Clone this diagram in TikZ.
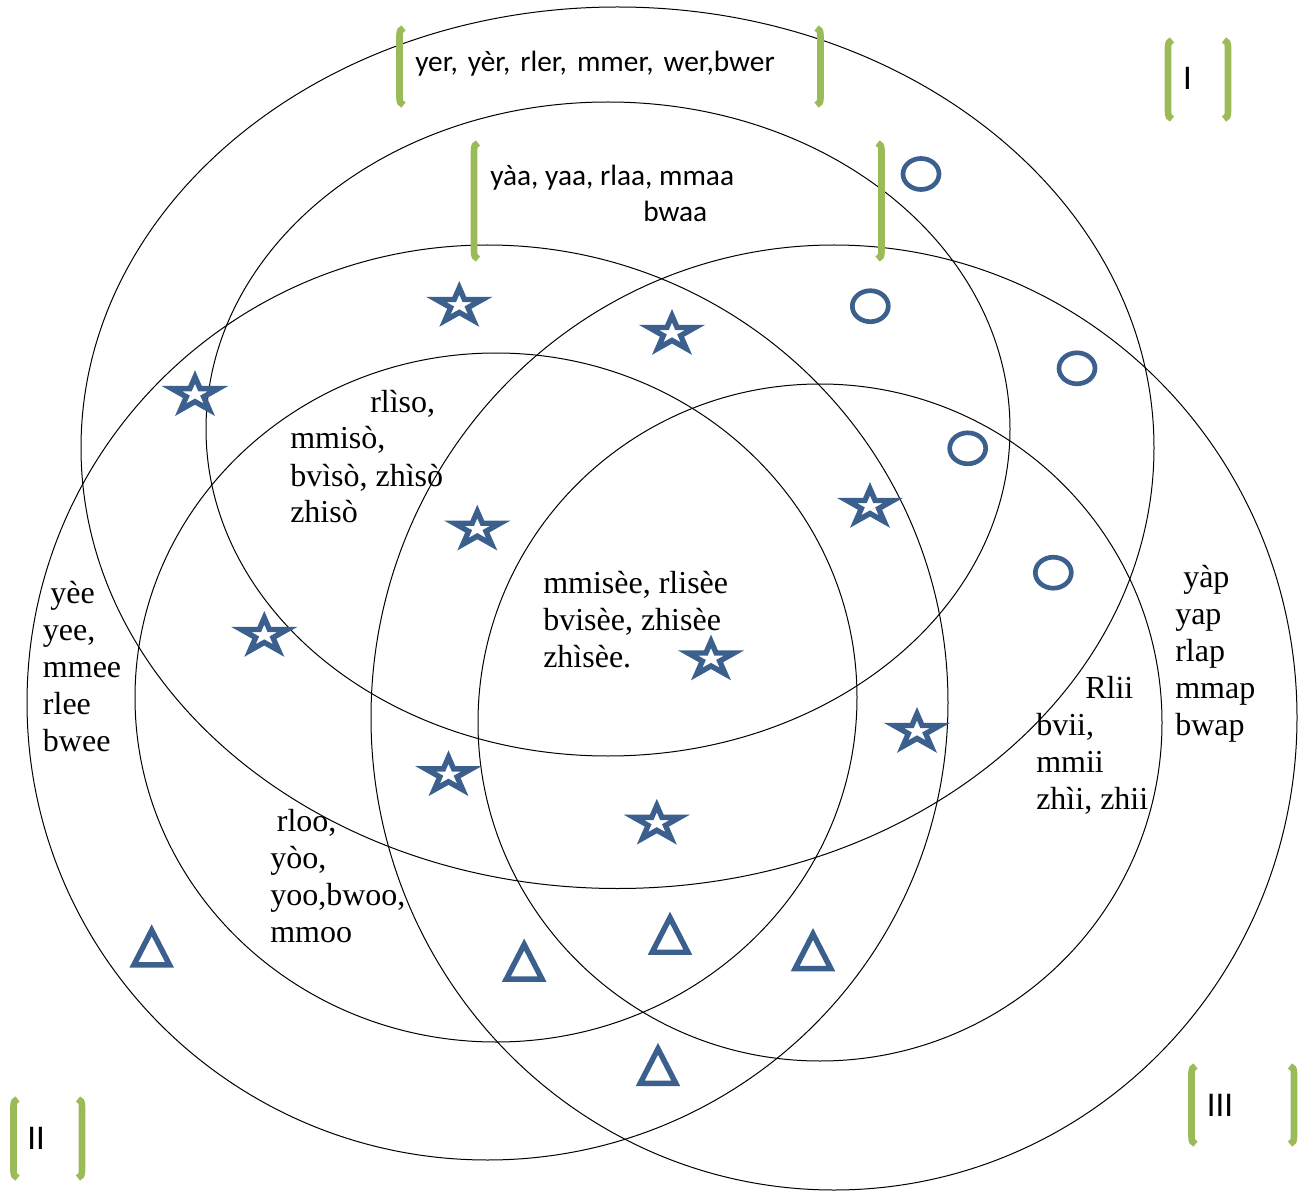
\documentclass[tikz,border=0pt]{standalone}
\usepackage{fontspec}
\usepackage{tikz}
\newfontfamily\timesfont{Liberation Serif}
\newfontfamily\calibrifont{Carlito}
\definecolor{markblue}{RGB}{60,96,142}
\definecolor{brackgreen}{RGB}{155,187,89}
\newcommand{\stacklines}[1]{\begin{tabular}[t]{@{}l@{}}#1\end{tabular}}
\tikzset{
  setline/.style={line width=0.75pt},
  starline/.style={draw=markblue, line width=4.05pt, line join=miter},
  triline/.style={draw=markblue, line width=4.1pt, line join=miter},
  ringline/.style={draw=markblue, line width=3.5pt},
  brackline/.style={draw=brackgreen, line width=5pt},
  wordtext/.style={anchor=base west, inner sep=0pt, font=\timesfont\fontsize{24}{27.75}\selectfont},
  boxtext/.style={anchor=base west, inner sep=0pt, font=\calibrifont\fontsize{22}{27}\selectfont},
  numtext/.style={inner sep=0pt, font=\calibrifont\fontsize{26}{30}\selectfont},
}

\begin{document}
\begin{tikzpicture}[x=0.75pt,y=0.75pt,yscale=-1,xscale=1]
\useasboundingbox (0,0) rectangle (1304,1191);

%Shape: Ellipse [set I, outer]
\draw [setline] (617.5,447.75) ellipse (536.5 and 440.75);
%Shape: Ellipse [set I, inner]
\draw [setline] (608,429) ellipse (402 and 327);
%Shape: Ellipse [set II, outer]
\draw [setline] (487.5,702.5) ellipse (460.5 and 457.5);
%Shape: Ellipse [set II, inner]
\draw [setline] (496,697.5) ellipse (361 and 344.5);
%Shape: Ellipse [set III, outer]
\draw [setline] (834,717.5) ellipse (463 and 472.5);
%Shape: Ellipse [set III, inner]
\draw [setline] (820,722.5) ellipse (342 and 338.5);

%Shape: Star
\foreach \sx/\sy in {459.3/304, 672/332, 195/393.2, 477.3/527.7, 870/505, 264.3/634, 711/657.5, 917/730, 448.5/773.3, 656.8/821.8}
  \draw [starline, shift={(\sx,\sy)}] (0,-16.2) -- (5.1,-4.5) -- (23,-4.5) -- (8.65,3.6) -- (14.3,16.5) -- (0,8.45) -- (-14.3,16.5) -- (-8.65,3.6) -- (-23,-4.5) -- (-5.1,-4.5) -- cycle ;

%Shape: Triangle
\foreach \tx/\ty in {151.7/946, 524.2/960.2, 670/933.3, 813/949.7, 658/1064.5}
  \draw [triline, shift={(\tx,\ty)}] (-17.85,18.95) -- (0,-15.7) -- (17.85,18.95) -- cycle ;

%Shape: Circle
\foreach \cx/\cy in {921/174, 870.3/306.2, 1077/368.3, 967.7/448.3, 1053.3/572.7}
  \draw [ringline] (\cx,\cy) ellipse (18 and 15.5);

%Shape: Bracket Pair
\foreach \xl/\xr/\yt/\yb in {399.5/820.5/28/105, 474/881.5/143/259, 1168/1228/40/119, 13.5/82/1099/1178, 1191.5/1294/1066/1144}{
  \draw [brackline] (\xl+4,\yt) .. controls (\xl+1,\yt+1) and (\xl,\yt+3) .. (\xl,\yt+8) -- (\xl,\yb-8) .. controls (\xl,\yb-3) and (\xl+1,\yb-1) .. (\xl+4,\yb) ;
  \draw [brackline] (\xr-4,\yt) .. controls (\xr-1,\yt+1) and (\xr,\yt+3) .. (\xr,\yt+8) -- (\xr,\yb-8) .. controls (\xr,\yb-3) and (\xr-1,\yb-1) .. (\xr-4,\yb) ;
}

% Text Node
\draw (415,72) node (yer) [boxtext] {\spaceskip=7.5pt yer, yèr, rler, mmer, wer,bwer};
% Text Node
\draw (490,186) node (yaa) [boxtext] {\stacklines{yàa, yaa, rlaa, mmaa\\\hspace*{114.75pt}bwaa}};
% Text Node
\draw (290,412) node (rliso) [wordtext] {\stacklines{\hspace*{60pt}rlìso,\\mmisò,\\bvìsò, zhìsò\\zhisò}};
% Text Node
\draw (543,593) node (misee) [wordtext] {\stacklines{mmisèe, rlisèe\\bvisèe, zhisèe\\zhìsèe.}};
% Text Node
\draw (42.7,603) node (yee) [wordtext] {\stacklines{\hspace*{5.5pt}yèe\\yee,\\mmee\\rlee\\bwee}};
% Text Node
\draw (270,831) node (rloo) [wordtext] {\stacklines{\hspace*{5pt}rloo,\\yòo,\\yoo,bwoo,\\mmoo}};
% Text Node
\draw (1036,698) node (rlii) [wordtext] {\stacklines{\hspace*{36.75pt}Rlii\\bvii,\\mmii\\zhìi, zhii}};
% Text Node
\draw (1175,587) node (yap) [wordtext] {\stacklines{\hspace*{6pt}yàp\\yap\\rlap\\mmap\\bwap}};
% Text Node
\draw (1187.5,78) node (numI) [numtext] {I};
% Text Node
\draw (36,1138.5) node (numII) [numtext] {II};
% Text Node
\draw (1220,1105) node (numIII) [numtext] {III};

\end{tikzpicture}
\end{document}
